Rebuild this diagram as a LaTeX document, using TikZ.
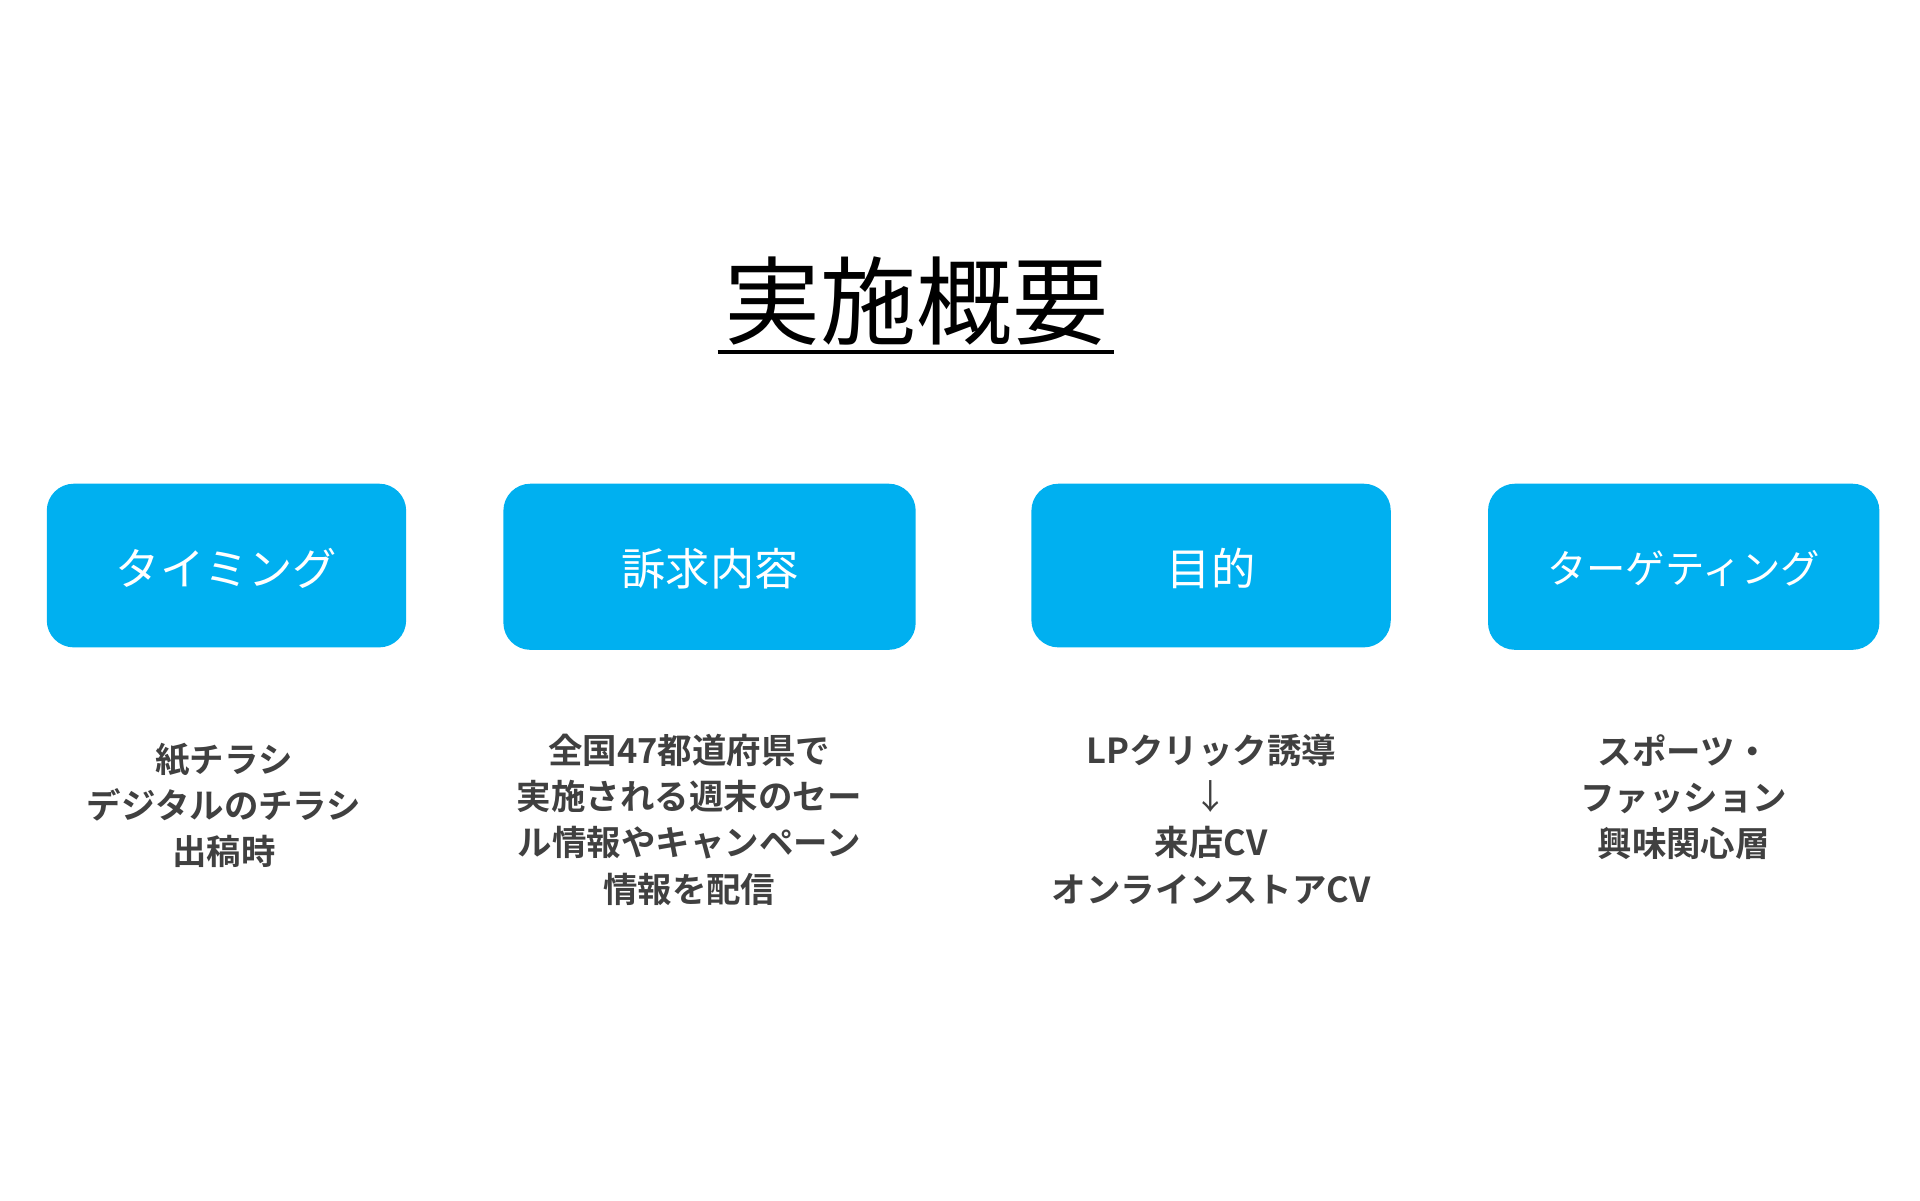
\documentclass[tikz,border=0pt]{standalone}
\usepackage{fontspec}
\newfontfamily\jp{Noto Sans CJK JP}
\newfontfamily\jpb{Noto Sans CJK JP Bold}
\definecolor{blu}{HTML}{00B0F0}
\definecolor{gr}{HTML}{404040}
\tikzset{hbox/.style={fill=blu,rounded corners=22pt,draw=none},
 htext/.style={text=white,font=\jp\fontsize{36}{40}\selectfont},
 btext/.style={text=gr,align=center,font=\jpb\fontsize{28}{37.5}\selectfont}}
\begin{document}
\begin{tikzpicture}[x=1pt,y=-1pt]
\useasboundingbox (0,0) rectangle (1560,975);
\node[font=\jp\fontsize{78}{80}\selectfont] (title) at (745,245) {実施概要};
\draw[line width=3pt] (583,286) -- (905,286);
\fill[hbox] (38,393) rectangle (330,526);
\fill[hbox] (409,393) rectangle (744,528);
\fill[hbox] (838,393) rectangle (1130,526);
\fill[hbox] (1209,393) rectangle (1527,528);
\node[htext] (h1) at (184,462) {タイミング};
\node[htext] (h2) at (577,462) {訴求内容};
\node[htext] (h3) at (984,462) {目的};
\node[htext,font=\jp\fontsize{32}{36}\selectfont] (h4) at (1368,462) {ターゲティング};
\node[btext,anchor=north] (b1) at (182,600) {紙チラシ\\デジタルのチラシ\\出稿時};
\node[btext,anchor=north] (b2) at (560,593) {全国47都道府県で\\実施される週末のセー\\ル情報やキャンペーン\\情報を配信};
\node[btext,anchor=north] (b3) at (984,593) {LPクリック誘導\\{\jp ↓}\\来店CV\\オンラインストアCV};
\node[btext,anchor=north] (b4) at (1368,593) {スポーツ・\\ファッション\\興味関心層};
\end{tikzpicture}
\end{document}
